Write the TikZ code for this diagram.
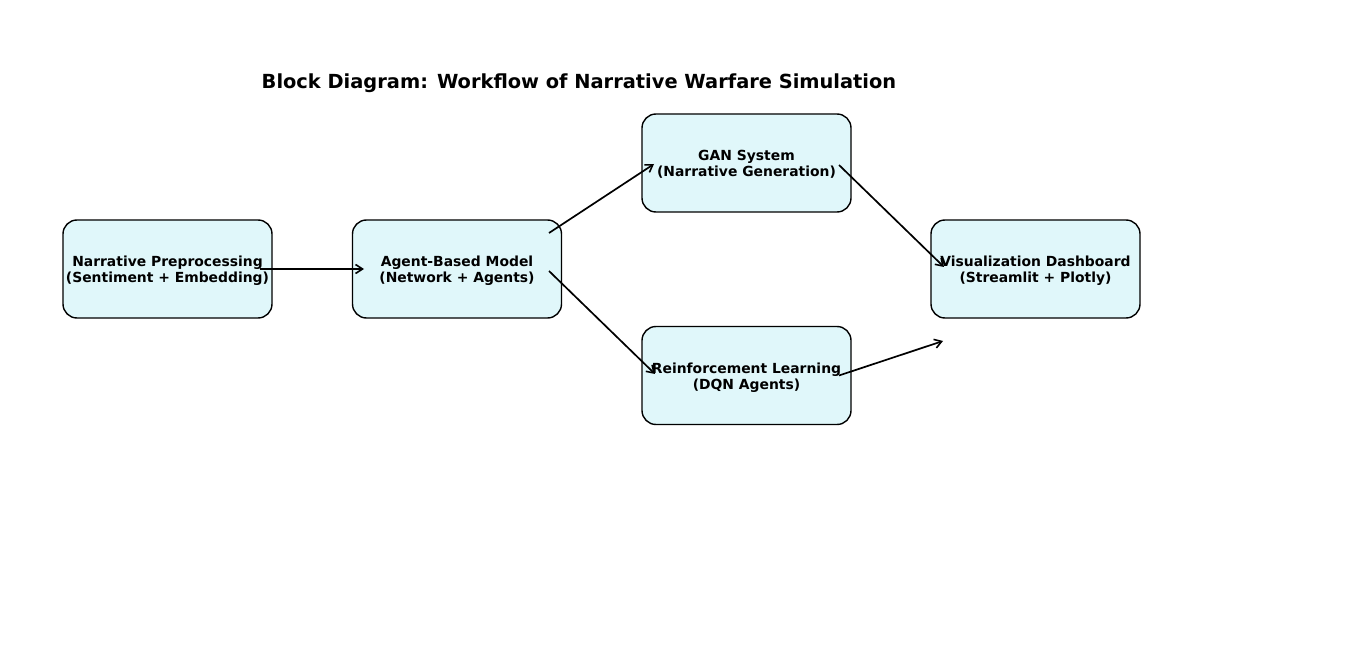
\documentclass[tikz,border=0pt]{standalone}
\usepackage{fontspec}
\setmainfont{DejaVu Sans}
\usetikzlibrary{arrows.meta,calc}
\definecolor{boxfill}{HTML}{E0F7FA}
\newcommand\twoline[2]{\raisebox{-2.5pt}[\height][\depth]{\begin{tabular}{@{}c@{}}#1\\#2\end{tabular}}}
\tikzset{
  blk/.style={draw=black, line width=1.4pt, fill=boxfill, rounded corners=14pt,
    minimum width=209pt, minimum height=98pt, inner sep=0pt, align=center,
    font=\fontsize{13.9}{16}\selectfont\bfseries},
  conn/.style={line width=1.7pt, -{Straight Barb[length=7pt,width=9pt,line width=1.6pt]}},
}
\begin{document}
\begin{tikzpicture}[x=1pt,y=-1pt]
\useasboundingbox (0,0) rectangle (1366,655);
\node[font=\fontsize{19.4}{23}\selectfont\bfseries] (title) at (579,83) {Block Diagram: Workflow of Narrative Warfare Simulation};
\node[blk] (A) at (167.5,269) {\twoline{Narrative Preprocessing}{(Sentiment + Embedding)}};
\node[blk] (B) at (457,269) {\twoline{Agent-Based Model}{(Network + Agents)}};
\node[blk] (G) at (746.5,163) {\twoline{GAN System}{(Narrative Generation)}};
\node[blk] (R) at (746.5,375.5) {\twoline{Reinforcement Learning}{(DQN Agents)}};
\node[blk] (V) at (1035.5,269) {\twoline{Visualization Dashboard}{(Streamlit + Plotly)}};
\coordinate (a1) at ($(A.center)+(92.5,0)$);
\coordinate (b0) at ($(B.center)+(-93,0)$);
\coordinate (b1) at ($(B.center)+(92,-36)$);
\coordinate (b2) at ($(B.center)+(92,2)$);
\coordinate (g0) at ($(G.center)+(-92.5,1)$);
\coordinate (g1) at ($(G.center)+(92.5,2)$);
\coordinate (r0) at ($(R.center)+(-91.5,-1.5)$);
\coordinate (r1) at ($(R.center)+(92.5,0)$);
\coordinate (v0) at ($(V.center)+(-91.5,-2)$);
\coordinate (v1) at ($(V.center)+(-92.5,72)$);
\draw[conn] (a1) -- (b0);
\draw[conn] (b1) -- (g0);
\draw[conn] (b2) -- (r0);
\draw[conn] (g1) -- (v0);
\draw[conn] (r1) -- (v1);
\end{tikzpicture}
\end{document}
